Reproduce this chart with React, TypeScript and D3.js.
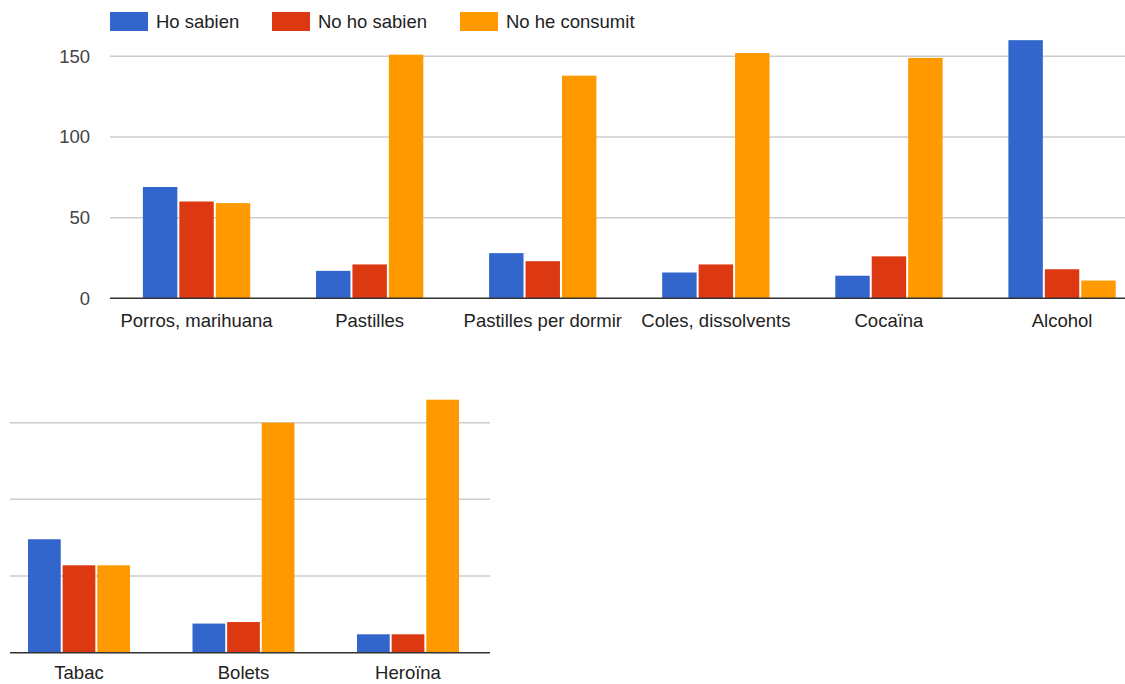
import React from "react";
import * as d3 from "d3";

const seriesNames = ["Ho sabien", "No ho sabien", "No he consumit"];
const seriesColors = ["#3366cc", "#dc3912", "#ff9900"];

const topCategories = ["Porros, marihuana", "Pastilles", "Pastilles per dormir", "Coles, dissolvents", "Cocaïna", "Alcohol"];
const topHoSabien = [69, 17, 28, 16, 14, 160];
const topNoHoSabien = [60, 21, 23, 21, 26, 18];
const topNoHeConsumit = [59, 151, 138, 152, 149, 11];
const topTicks = [0, 50, 100, 150];

const bottomCategories = ["Tabac", "Bolets", "Heroïna"];
const bottomHoSabien = [74, 19, 12];
const bottomNoHoSabien = [57, 20, 12];
const bottomNoHeConsumit = [57, 150, 165];
const bottomTicks = [0, 50, 100, 150];

const FONT = "'Liberation Sans', Arial, sans-serif";

type PanelProps = {
  categories: string[];
  series: number[][];
  ticks: number[];
  xRange: [number, number];
  gridX: [number, number];
  baseY: number;
  topY: number;
  showTickLabels: boolean;
  labelY: number;
};

function Panel({ categories, series, ticks, xRange, gridX, baseY, topY, showTickLabels, labelY }: PanelProps) {
  const x0 = d3.scaleBand<string>().domain(categories).range(xRange).paddingInner(0.38).paddingOuter(0.19);
  const x1 = d3.scaleBand<string>().domain(seriesNames).range([0, x0.bandwidth()]).paddingInner(0.055).paddingOuter(0);
  const y = d3.scaleLinear().domain([0, 150]).range([baseY, topY]);
  return (
    <g>
      {ticks.filter((t) => t !== 0).map((t) => (
        <line key={"g" + t} x1={gridX[0]} x2={gridX[1]} y1={y(t)} y2={y(t)} stroke="#cccccc" strokeWidth={1.5} />
      ))}
      {showTickLabels &&
        ticks.map((t) => (
          <text key={"t" + t} x={gridX[0] - 20} y={y(t)} dy="0.35em" textAnchor="end" fontSize={18.5} fill="#444444" fontFamily={FONT}>
            {t}
          </text>
        ))}
      {categories.map((c, i) => (
        <g key={c} transform={`translate(${x0(c)},0)`}>
          {seriesNames.map((s, k) => (
            <rect
              key={s}
              x={x1(s)}
              y={y(series[k][i])}
              width={x1.bandwidth()}
              height={baseY - y(series[k][i])}
              fill={seriesColors[k]}
            />
          ))}
        </g>
      ))}
      <line x1={gridX[0]} x2={gridX[1]} y1={baseY} y2={baseY} stroke="#333333" strokeWidth={1.5} />
      {categories.map((c) => (
        <text key={"l" + c} x={(x0(c) as number) + x0.bandwidth() / 2} y={labelY} textAnchor="middle" fontSize={18.5} fill="#222222" fontFamily={FONT}>
          {c}
        </text>
      ))}
    </g>
  );
}

export default function App() {
  const legendX = [110, 272, 460];
  return (
    <svg width={1125} height={684} style={{ position: "absolute", left: 0, top: 0, background: "#ffffff" }}>
      <rect width={1125} height={684} fill="#ffffff" />
      {seriesNames.map((s, k) => (
        <g key={s}>
          <rect x={legendX[k]} y={12} width={38} height={19} fill={seriesColors[k]} />
          <text x={legendX[k] + 46} y={21.5} dy="0.35em" fontSize={18.5} fill="#222222" fontFamily={FONT}>
            {s}
          </text>
        </g>
      ))}
      <Panel
        categories={topCategories}
        series={[topHoSabien, topNoHoSabien, topNoHeConsumit]}
        ticks={topTicks}
        xRange={[110, 1148.6]}
        gridX={[110, 1125]}
        baseY={298.3}
        topY={56.3}
        showTickLabels={true}
        labelY={327}
      />
      <Panel
        categories={bottomCategories}
        series={[bottomHoSabien, bottomNoHoSabien, bottomNoHeConsumit]}
        ticks={bottomTicks}
        xRange={[-3.25, 490.25]}
        gridX={[10, 490]}
        baseY={652.7}
        topY={422.7}
        showTickLabels={false}
        labelY={679}
      />
    </svg>
  );
}
